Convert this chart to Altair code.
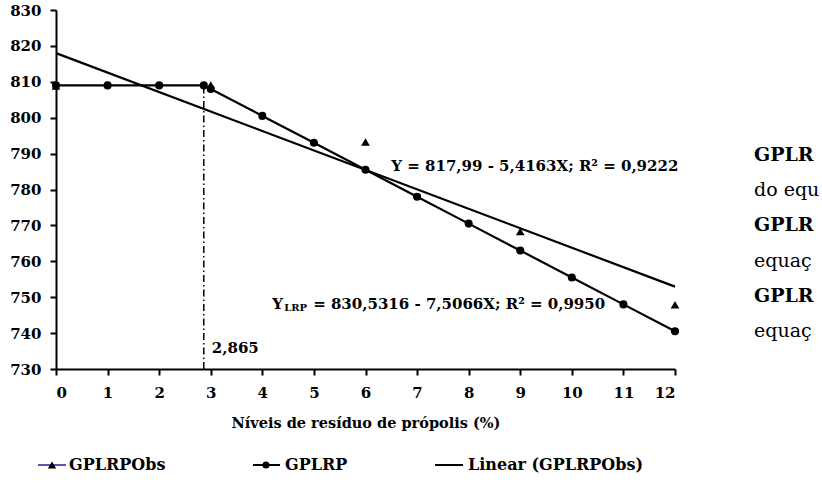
import altair as alt
import pandas as pd

# ---- data ----
x_obs = [0, 3, 6, 9, 12]
y_obs = [808.8, 809.1, 793.2, 768.3, 747.9]

x_lrp = [0, 1, 2, 2.865, 3, 4, 5, 6, 7, 8, 9, 10, 11, 12]
y_lrp = [809.0, 809.0, 809.0, 809.0, 808.0, 800.5, 793.0, 785.5, 778.0, 770.5, 763.0, 755.5, 748.0, 740.5]

x_ticks = list(range(0, 13))
y_ticks = list(range(730, 831, 10))

plateau_x = [2.865]
plateau_y = [809.03]
plateau_label = ["2,865"]

eq1_text = ["Y = 817,99 - 5,4163X; R² = 0,9222"]
eq2_main = ["Y"]
eq2_sub = ["LRP"]
eq2_rest = ["= 830,5316 - 7,5066X; R² = 0,9950"]

# text at the right edge, as much as the reference shows
side_lines = ["GPLR", "do equ", "GPLR", "equaç", "GPLR", "equaç"]
side_bold = [True, False, True, False, True, False]

x_title = "Níveis de resíduo de própolis (%)"
legend_labels = ["GPLRPObs", "GPLRP", "Linear (GPLRPObs)"]

FONT = "DejaVu Serif"
W, H = 619, 359

obs = pd.DataFrame({"x": x_obs, "y": y_obs})
lrp = pd.DataFrame({"x": x_lrp, "y": y_lrp})

xs = alt.Scale(domain=[0, 12], nice=False)
ys = alt.Scale(domain=[730, 830], nice=False)
x_axis = alt.Axis(values=x_ticks, title=x_title, format="d", labelOverlap=False)
y_axis = alt.Axis(values=y_ticks, title=None, format="d", labelOverlap=False)

X = alt.X("x:Q", scale=xs, axis=x_axis)
Y = alt.Y("y:Q", scale=ys, axis=y_axis)

trend = alt.Chart(obs).transform_regression("x", "y", extent=[0, 12]).mark_line(
    color="black", strokeWidth=2.2
).encode(x=X, y=Y)

lrp_line = alt.Chart(lrp).mark_line(color="black", strokeWidth=2.2).encode(x=X, y=Y)
lrp_pts = alt.Chart(lrp).mark_point(shape="circle", filled=True, color="black", size=65, opacity=1).encode(x=X, y=Y)
obs_pts = alt.Chart(obs).mark_point(shape="triangle-up", filled=True, color="black", size=75, opacity=1).encode(x=X, y=Y)

pl = pd.DataFrame({"x": plateau_x, "y": plateau_y, "y0": [730], "label": plateau_label})
vrule = alt.Chart(pl).mark_rule(color="black", strokeWidth=1.5, strokeDash=[7, 3, 1.5, 3]).encode(
    x=X, y=alt.Y("y0:Q", scale=ys, axis=y_axis), y2="y:Q"
)
vlabel = alt.Chart(pl).mark_text(font=FONT, fontWeight="bold", fontSize=15, align="left", dx=8, baseline="middle").encode(
    x=X, y=alt.value(338), text="label:N"
)

eq1 = alt.Chart(pd.DataFrame({"x": [6.5], "y": [786.6], "t": eq1_text})).mark_text(
    font=FONT, fontWeight="bold", fontSize=15, align="left", baseline="middle"
).encode(x=X, y=Y, text="t:N")

eq2a = alt.Chart(pd.DataFrame({"x": [4.19], "y": [748.2], "t": eq2_main})).mark_text(
    font=FONT, fontWeight="bold", fontSize=15, align="left", baseline="middle"
).encode(x=X, y=Y, text="t:N")
eq2b = alt.Chart(pd.DataFrame({"x": [4.19], "y": [748.2], "t": eq2_sub})).mark_text(
    font=FONT, fontWeight="bold", fontSize=10, align="left", baseline="middle", dx=12, dy=4
).encode(x=X, y=Y, text="t:N")
eq2c = alt.Chart(pd.DataFrame({"x": [4.19], "y": [748.2], "t": eq2_rest})).mark_text(
    font=FONT, fontWeight="bold", fontSize=15, align="left", baseline="middle", dx=41
).encode(x=X, y=Y, text="t:N")

side_layers = []
for i, (txt, b) in enumerate(zip(side_lines, side_bold)):
    side_layers.append(
        alt.Chart(pd.DataFrame({"t": [txt]})).mark_text(
            font=FONT, fontWeight="bold" if b else "normal", fontSize=19, align="left", baseline="middle"
        ).encode(x=alt.value(754 - 56), y=alt.value(155 - 10 + i * 35.2), text="t:N")
    )

# custom legend
LY = 465 - 10
leg_line1 = alt.Chart(pd.DataFrame({"a": [0]})).mark_rule(color="#5a5aa8", strokeWidth=2).encode(
    x=alt.value(38 - 56), x2=alt.value(66 - 56), y=alt.value(LY))
leg_tri = alt.Chart(pd.DataFrame({"a": [0]})).mark_point(shape="triangle-up", filled=True, color="black", size=70, opacity=1).encode(
    x=alt.value(52 - 56), y=alt.value(LY))
leg_line2 = alt.Chart(pd.DataFrame({"a": [0]})).mark_rule(color="black", strokeWidth=2).encode(
    x=alt.value(253 - 56), x2=alt.value(280 - 56), y=alt.value(LY))
leg_circ = alt.Chart(pd.DataFrame({"a": [0]})).mark_point(shape="circle", filled=True, color="black", size=50, opacity=1).encode(
    x=alt.value(266 - 56), y=alt.value(LY))
leg_line3 = alt.Chart(pd.DataFrame({"a": [0]})).mark_rule(color="black", strokeWidth=2).encode(
    x=alt.value(435 - 56), x2=alt.value(463 - 56), y=alt.value(LY))
leg_text = alt.Chart(pd.DataFrame({"t": legend_labels, "px": [69 - 56, 285 - 56, 468 - 56]})).mark_text(
    font=FONT, fontWeight="bold", fontSize=16, align="left", baseline="middle"
).encode(x=alt.X("px:Q", scale=None), y=alt.value(LY), text="t:N")

chart = alt.layer(
    trend, lrp_line, vrule, lrp_pts, obs_pts, vlabel, eq1, eq2a, eq2b, eq2c,
    *side_layers, leg_line1, leg_tri, leg_line2, leg_circ, leg_line3, leg_text
).properties(
    width=W, height=H,
    autosize=alt.AutoSizeParams(type="none"),
    padding={"left": 56, "top": 10, "right": 822 - 56 - W, "bottom": 484 - 10 - H},
    background="white",
).configure_view(stroke=None).configure_axis(
    grid=False, domainColor="black", domainWidth=2, tickColor="black", tickWidth=2, tickSize=6,
    labelFont=FONT, labelFontWeight="bold", labelFontSize=15, labelColor="black",
    titleFont=FONT, titleFontWeight="bold", titleFontSize=14.5, titleColor="black",
).configure_axisX(labelPadding=10, titlePadding=16).configure_axisY(labelPadding=9)

chart.save("out.html", embed_options={"renderer": "svg", "actions": False})
